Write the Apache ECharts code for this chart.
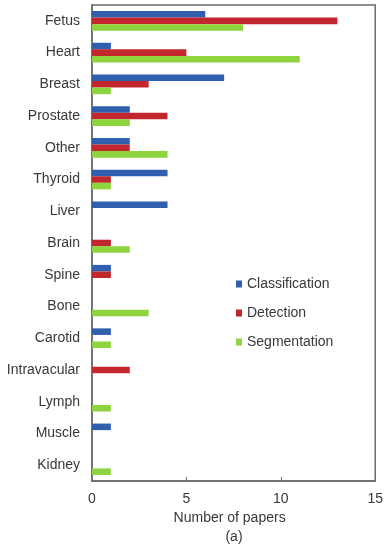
<!DOCTYPE html>
<html>
<head>
<meta charset="utf-8">
<script src="https://cdn.jsdelivr.net/npm/echarts@6/dist/echarts.min.js"></script>
<style>html,body{margin:0;padding:0;background:#fff;}#c{width:386px;height:545px;}</style>
</head>
<body>
<div id="c"></div>
<script>
const categories = ['Fetus','Heart','Breast','Prostate','Other','Thyroid','Liver','Brain','Spine','Bone','Carotid','Intravacular','Lymph','Muscle','Kidney'];
const classification = [6,1,7,2,2,4,4,0,1,0,1,0,0,1,0];
const detection      = [13,5,3,4,2,1,0,1,1,0,0,2,0,0,0];
const segmentation   = [8,11,1,2,4,1,0,2,0,3,1,0,1,0,1];
const xTicks = [0,5,10,15];

const chart = echarts.init(document.getElementById('c'), null, {renderer:'canvas'});
const font = 'Liberation Sans, Arial, sans-serif';
chart.setOption({
  animation:false,
  textStyle:{fontFamily:font},
  grid:{left:92,right:9,top:5,bottom:64,show:true,borderColor:'#6b6b6b',borderWidth:1.5,containLabel:false},
  legend:{
    orient:'vertical', left:231, top:272, itemGap:15,
    itemWidth:6, itemHeight:7, icon:'rect',
    textStyle:{fontSize:14,color:'#383838',fontFamily:font},
    data:['Classification','Detection','Segmentation']
  },
  xAxis:{
    type:'value', min:0, max:15, interval:5,
    name:'Number of papers', nameLocation:'middle', nameGap:27,
    nameTextStyle:{fontSize:14,color:'#383838',fontFamily:font,padding:[0,8,0,0]},
    axisLine:{show:true,lineStyle:{color:'#6b6b6b',width:1.5}},
    axisTick:{show:true,inside:true,length:4,lineStyle:{color:'#6b6b6b'}},
    axisLabel:{fontSize:14,color:'#383838',margin:11,fontFamily:font,formatter:v=>xTicks.includes(v)?String(v):''},
    splitLine:{show:false}
  },
  yAxis:{
    type:'category', data:categories, inverse:true,
    axisLine:{show:true,lineStyle:{color:'#6b6b6b',width:1.5}},
    axisTick:{show:false},
    axisLabel:{fontSize:14,color:'#383838',margin:12,fontFamily:font}
  },
  graphic:[{type:'text',x:234,y:537,style:{text:'(a)',fontSize:14,fill:'#383838',fontFamily:font,align:'center',verticalAlign:'middle'}}],
  series:[
    {name:'Classification',type:'bar',data:classification,itemStyle:{color:'#2f5fae'},barGap:'0%',barCategoryGap:'38%'},
    {name:'Detection',type:'bar',data:detection,itemStyle:{color:'#c1272d'},barGap:'0%',barCategoryGap:'38%'},
    {name:'Segmentation',type:'bar',data:segmentation,itemStyle:{color:'#8dd43f'},barGap:'0%',barCategoryGap:'38%'}
  ]
});
</script>
</body>
</html>
